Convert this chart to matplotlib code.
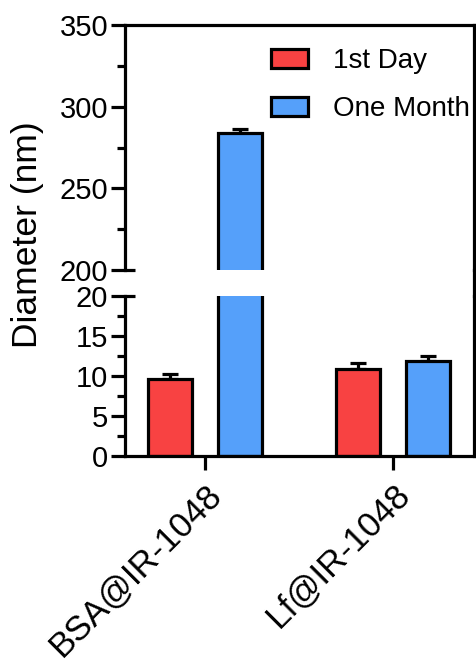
import matplotlib.pyplot as plt
import numpy as np
from matplotlib.lines import Line2D
from matplotlib.transforms import blended_transform_factory

plt.rcParams['font.family'] = ['Liberation Sans', 'DejaVu Sans']

groups = ['BSA@IR-1048', 'Lf@IR-1048']
series = ['1st Day', 'One Month']
day1 = [9.6, 10.9]
day1_err = [0.6, 0.7]
month = [284.0, 11.9]
month_err = [2.5, 0.6]
colors = ['#F84242', '#55A0FA']

fs = 21
lw = 2.3

fig = plt.figure(figsize=(4.77, 6.62), dpi=100)
ax_top = fig.add_axes([0.262, 0.5921, 0.7317, 0.3701])
ax_bot = fig.add_axes([0.262, 0.3112, 0.7317, 0.2417])

x = np.arange(len(groups))
width = 0.235
offs = 0.187

for ax in (ax_top, ax_bot):
    for vals, errs, col, lab, sign in ((day1, day1_err, colors[0], series[0], -1),
                                       (month, month_err, colors[1], series[1], 1)):
        ax.bar(x + sign * offs, vals, width, color=col, edgecolor='black',
               linewidth=lw, label=lab, zorder=2)
        ax.errorbar(x + sign * offs, vals, yerr=[np.zeros(len(errs)), errs],
                    fmt='none', ecolor='black', elinewidth=lw, capsize=5.5,
                    capthick=lw, zorder=1)
    ax.set_xlim(-0.426, 1.43)
    for s in ax.spines.values():
        s.set_linewidth(lw)
    ax.tick_params(labelsize=fs, width=lw, length=10, pad=2)
    ax.tick_params(which='minor', width=lw, length=6)

ax_top.set_ylim(200, 350)
ax_top.set_yticks([200, 250, 300, 350])
ax_top.set_yticks([225, 275, 325], minor=True)
ax_top.spines['bottom'].set_visible(False)
ax_top.tick_params(axis='x', bottom=False, labelbottom=False)

ax_bot.set_ylim(0, 20)
ax_bot.set_yticks([0, 5, 10, 15, 20])
ax_bot.set_yticks([2.5, 7.5, 12.5, 17.5], minor=True)
ax_bot.spines['top'].set_visible(False)
ax_bot.set_xticks(x)
ax_bot.set_xticklabels(groups, rotation=45, ha='right', rotation_mode='anchor',
                       fontsize=25)
ax_bot.tick_params(axis='x', pad=6)

# break marks on the left spine
tr_top = blended_transform_factory(ax_top.transAxes, ax_top.transData)
ax_top.plot([0, 0.03], [200, 200], color='black', lw=lw, transform=tr_top,
            clip_on=False, solid_capstyle='butt')
tr_bot = blended_transform_factory(ax_bot.transAxes, ax_bot.transData)
ax_bot.plot([0, 0.03], [20, 20], color='black', lw=lw, transform=tr_bot,
            clip_on=False, solid_capstyle='butt')

# right edge runs through the gap
fig.add_artist(Line2D([0.9937, 0.9937], [0.5921, 0.5529], color='black', lw=lw))

ax_top.legend(loc='upper left', bbox_to_anchor=(0.387, 0.951), frameon=False,
              fontsize=20, handlelength=1.33, handleheight=0.65,
              handletextpad=0.9, labelspacing=0.8, borderaxespad=0)

fig.text(0.057, 0.645, 'Diameter (nm)', rotation=90, fontsize=25.5,
         ha='center', va='center')

fig.savefig('out.png', dpi=100)
